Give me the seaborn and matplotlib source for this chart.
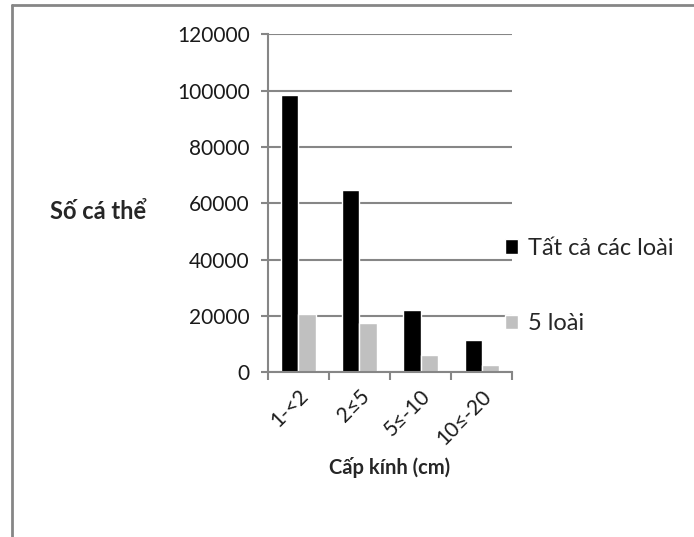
import numpy as np
import pandas as pd
import matplotlib
matplotlib.use('Agg')
import matplotlib.pyplot as plt
from matplotlib.lines import Line2D
import seaborn as sns

# data
classes = ['1-<2', '2≤5', '5≤-10', '10≤-20']
all_species = [98400, 64700, 21900, 11500]
five_species = [20500, 17400, 6100, 2400]
series_names = ['Tất cả các loài', '5 loài']

df = pd.DataFrame({
    'cls': classes * 2,
    'val': all_species + five_species,
    'grp': [series_names[0]] * 4 + [series_names[1]] * 4,
})

sns.set_theme(style='white')
plt.rcParams['font.family'] = ['Lato', 'Noto Sans', 'DejaVu Sans']

fig = plt.figure(figsize=(6.94, 5.37), dpi=100)
ax = fig.add_axes([0.386, 0.307, 0.352, 0.629])

sns.barplot(data=df, x='cls', y='val', hue='grp', palette=['#000000', '#c0c0c0'],
            width=0.56, gap=0, ax=ax, legend=True, saturation=1)

ax.set_xlim(-0.5, 3.5)
ax.set_ylim(0, 120000)
ax.set_yticks(np.arange(0, 120001, 20000))
ax.yaxis.grid(True, color='#868686', linewidth=1.5)
ax.set_axisbelow(True)

for s in ['top', 'right']:
    ax.spines[s].set_visible(False)
for s in ['left', 'bottom']:
    ax.spines[s].set_color('#868686')
    ax.spines[s].set_linewidth(1.5)

ax.tick_params(axis='y', which='major', length=5, width=1.5, color='#868686',
               labelsize=15, pad=8, left=True, labelcolor='#1a1a1a')
ax.tick_params(axis='x', which='major', length=0, labelsize=15, pad=10, labelcolor='#1a1a1a')
ax.set_xticks(np.arange(-0.5, 4, 1), minor=True)
ax.tick_params(axis='x', which='minor', length=6, width=1.5, color='#868686', bottom=True)
plt.setp(ax.get_xticklabels(), rotation=45, ha='right', rotation_mode='anchor')

ax.set_xlabel('Cấp kính (cm)', fontsize=14.5, fontweight='bold', labelpad=6)
ax.set_ylabel('')
fig.text(0.072, 0.607, 'Số cá thể', fontsize=17, fontweight='bold', va='center', ha='left')

leg = ax.legend(loc='center left', bbox_to_anchor=(0.885, 0.255), frameon=False,
                fontsize=17, handlelength=0.55, handleheight=0.55, handletextpad=0.4,
                labelspacing=2.3)

# outer frame of the chart area
fig.add_artist(Line2D([12 / 694, 12 / 694], [0, 1 - 5 / 537], transform=fig.transFigure,
                      color='#868686', linewidth=2))
fig.add_artist(Line2D([12 / 694, 1], [1 - 5 / 537, 1 - 5 / 537], transform=fig.transFigure,
                      color='#868686', linewidth=2))

fig.savefig('out.png', dpi=100)
